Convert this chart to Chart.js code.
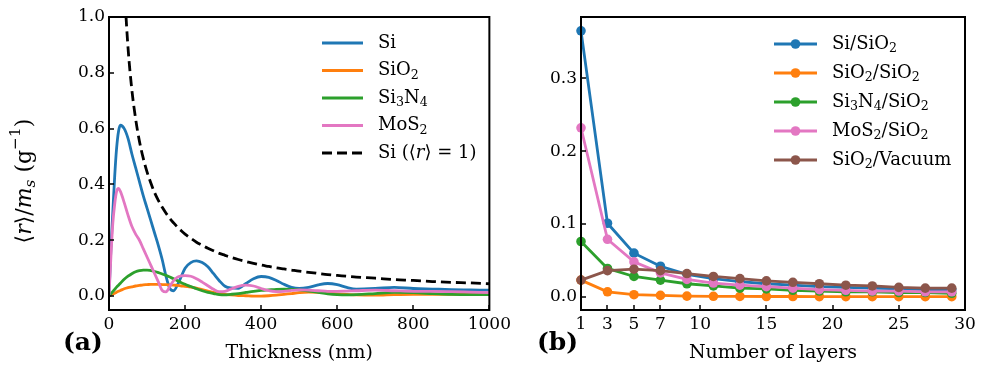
<!DOCTYPE html>
<html>
<head>
<meta charset="utf-8">
<script src="https://cdn.jsdelivr.net/npm/chart.js@4.4.1/dist/chart.umd.min.js"></script>
<style>
  body { margin: 0; background: #fff; }
  #wrap { position: relative; width: 986px; height: 376px; }
  canvas { position: absolute; top: 0; }
</style>
</head>
<body>
<div id="wrap">
  <canvas id="chartA" width="515" height="376" style="left:0"></canvas>
  <canvas id="chartB" width="471" height="376" style="left:515px"></canvas>
</div>
<script>
// ---- panel (a) : ratio vs thickness ----
const thickness = [0, 5, 10, 15, 20, 25, 30, 40, 50, 60, 70, 80, 90, 100, 110, 120, 130, 140, 150, 160,
  170, 180, 190, 200, 215, 230, 245, 260, 275, 290, 305, 320, 340, 360, 380, 400, 420, 440, 460, 480,
  500, 525, 550, 575, 600, 625, 650, 700, 750, 800, 850, 900, 950, 1000];
const siCurve = [0, 0.17, 0.30, 0.43, 0.53, 0.59, 0.612, 0.60, 0.565, 0.51, 0.46, 0.41, 0.36, 0.315, 0.27, 0.225, 0.18, 0.13, 0.07, 0.027,
  0.019, 0.04, 0.07, 0.10, 0.12, 0.126, 0.12, 0.105, 0.08, 0.055, 0.035, 0.029, 0.028, 0.045, 0.062, 0.07, 0.067, 0.056, 0.042, 0.031,
  0.027, 0.031, 0.04, 0.045, 0.041, 0.031, 0.025, 0.027, 0.031, 0.027, 0.025, 0.023, 0.022, 0.021];
const sio2Curve = [0, 0.003, 0.007, 0.010, 0.014, 0.017, 0.020, 0.026, 0.030, 0.033, 0.036, 0.038, 0.040, 0.041, 0.042, 0.042, 0.042, 0.041, 0.041, 0.040,
  0.039, 0.038, 0.036, 0.035, 0.032, 0.028, 0.023, 0.018, 0.013, 0.009, 0.006, 0.004, 0.002, 0.001, 0.000, 0.000, 0.001, 0.003, 0.006, 0.009,
  0.012, 0.014, 0.013, 0.011, 0.008, 0.006, 0.004, 0.003, 0.005, 0.006, 0.006, 0.006, 0.006, 0.005];
const si3n4Curve = [0, 0.008, 0.016, 0.024, 0.032, 0.039, 0.046, 0.060, 0.071, 0.080, 0.087, 0.091, 0.093, 0.093, 0.091, 0.088, 0.084, 0.079, 0.074, 0.068,
  0.062, 0.055, 0.048, 0.042, 0.034, 0.026, 0.019, 0.013, 0.009, 0.005, 0.004, 0.006, 0.009, 0.013, 0.017, 0.020, 0.022, 0.024, 0.025, 0.024,
  0.022, 0.018, 0.013, 0.008, 0.005, 0.004, 0.005, 0.009, 0.013, 0.012, 0.009, 0.006, 0.005, 0.005];
const mos2Curve = [0, 0.14, 0.26, 0.33, 0.375, 0.386, 0.375, 0.335, 0.29, 0.25, 0.222, 0.2, 0.17, 0.14, 0.11, 0.08, 0.05, 0.02, 0.015, 0.035,
  0.055, 0.068, 0.072, 0.073, 0.071, 0.062, 0.05, 0.037, 0.024, 0.016, 0.017, 0.025, 0.035, 0.039, 0.036, 0.027, 0.019, 0.016, 0.017, 0.02,
  0.022, 0.021, 0.019, 0.017, 0.017, 0.018, 0.019, 0.021, 0.019, 0.017, 0.017, 0.016, 0.014, 0.012];
const siIdealCurve = [null, null, null, null, null, null, null, 1.11, 0.89, 0.74, 0.635, 0.555, 0.494, 0.445, 0.405, 0.37, 0.342, 0.318, 0.297, 0.278,
  0.262, 0.247, 0.234, 0.222, 0.207, 0.193, 0.182, 0.171, 0.162, 0.153, 0.146, 0.139, 0.131, 0.124, 0.117, 0.111, 0.106, 0.101, 0.097, 0.093,
  0.089, 0.085, 0.081, 0.077, 0.074, 0.071, 0.068, 0.064, 0.059, 0.056, 0.052, 0.049, 0.047, 0.044];
const thicknessTicks = [0, 200, 400, 600, 800, 1000];
const ratioTicks = [0, 0.2, 0.4, 0.6, 0.8, 1.0];

// ---- panel (b) : ratio vs number of layers ----
const layers = [1, 3, 5, 7, 9, 11, 13, 15, 17, 19, 21, 23, 25, 27, 29];
const siOnSiO2 = [0.365, 0.101, 0.060, 0.042, 0.031, 0.025, 0.021, 0.018, 0.016, 0.014, 0.013, 0.012, 0.011, 0.010, 0.010];
const sio2OnSiO2 = [0.023, 0.007, 0.003, 0.002, 0.001, 0.0008, 0.0006, 0.0005, 0.0005, 0.0004, 0.0004, 0.0003, 0.0003, 0.0003, 0.0003];
const si3n4OnSiO2 = [0.076, 0.039, 0.028, 0.023, 0.018, 0.015, 0.012, 0.011, 0.009, 0.008, 0.007, 0.007, 0.006, 0.006, 0.005];
const mos2OnSiO2 = [0.232, 0.079, 0.048, 0.033, 0.024, 0.019, 0.016, 0.014, 0.012, 0.010, 0.009, 0.008, 0.008, 0.007, 0.007];
const sio2OnVacuum = [0.023, 0.036, 0.038, 0.036, 0.032, 0.028, 0.025, 0.022, 0.020, 0.018, 0.016, 0.015, 0.013, 0.012, 0.012];
const layerTicks = [1, 3, 5, 7, 10, 15, 20, 25, 30];
const layerRatioTicks = [0, 0.1, 0.2, 0.3];

const BLUE = "#1f77b4", ORANGE = "#ff7f0e", GREEN = "#2ca02c", PINK = "#e377c2", BROWN = "#8c564b";
const SERIF = "'DejaVu Serif', serif";

// texte avec indices / exposants : _2, _{s}, ^{-1}, *italique*
function richTokens(text) {
    return text.match(/(_\{[^}]*\}|_.|\^\{[^}]*\}|\*[^*]*\*|[^_^*]+)/g) || [];
}
function drawRich(ctx, text, x, y, size, measureOnly) {
    let cx = x;
    richTokens(text).forEach(tok => {
        let s = size, dy = 0, style = "", str = tok;
        if (tok[0] === "_") { s = size * 0.7; dy = size * 0.28; str = tok[1] === "{" ? tok.slice(2, -1) : tok.slice(1); }
        else if (tok[0] === "^") { s = size * 0.7; dy = -size * 0.4; str = tok.slice(2, -1); }
        if (str[0] === "*") { style = "italic "; str = str.slice(1, -1); }
        ctx.font = style + s + "px " + SERIF;
        if (!measureOnly) ctx.fillText(str, cx, y + dy);
        cx += ctx.measureText(str).width;
    });
    return cx - x;
}

// ticks vers l'intérieur + cadre + légende + textes
const decorPlugin = {
    id: "decor",
    afterDatasetsDraw(chart, args, opts) {
        const ctx = chart.ctx;
        const a = chart.chartArea;
        ctx.save();
        ctx.strokeStyle = "#000";
        ctx.lineWidth = 1.5;
        const xs = chart.scales.x, ys = chart.scales.y;
        xs.ticks.forEach(t => {
            const px = Math.round(xs.getPixelForValue(t.value));
            ctx.beginPath(); ctx.moveTo(px, a.bottom); ctx.lineTo(px, a.bottom - 5); ctx.stroke();
        });
        ys.ticks.forEach(t => {
            const py = Math.round(ys.getPixelForValue(t.value));
            ctx.beginPath(); ctx.moveTo(a.left, py); ctx.lineTo(a.left + 5, py); ctx.stroke();
        });
        ctx.lineWidth = 2;
        ctx.strokeRect(a.left, a.top, a.right - a.left, a.bottom - a.top);

        // légende
        const lg = opts.legend;
        ctx.textBaseline = "middle";
        ctx.fillStyle = "#000";
        chart.data.datasets.forEach((ds, i) => {
            const y = a.top + lg.y + i * lg.dy;
            const x0 = a.left + lg.x;
            ctx.strokeStyle = ds.borderColor;
            ctx.lineWidth = ds.borderWidth;
            ctx.setLineDash(ds.borderDash || []);
            ctx.beginPath(); ctx.moveTo(x0, y); ctx.lineTo(x0 + lg.len, y); ctx.stroke();
            ctx.setLineDash([]);
            if (ds.pointRadius) {
                ctx.fillStyle = ds.borderColor;
                ctx.beginPath(); ctx.arc(x0 + lg.len / 2, y, ds.pointRadius, 0, Math.PI * 2); ctx.fill();
            }
            ctx.fillStyle = "#000";
            drawRich(ctx, ds.label, x0 + lg.len + lg.gap, y, lg.size);
        });

        // étiquette du panneau
        ctx.font = "bold 25px " + SERIF;
        ctx.textBaseline = "middle";
        ctx.fillText(opts.panel, opts.panelX, 343);

        // titre de l'axe y
        if (opts.yTitle) {
            ctx.translate(opts.yTitleX, 181);
            ctx.rotate(-Math.PI / 2);
            const w = drawRich(ctx, opts.yTitle, 0, 0, 22, true);
            drawRich(ctx, opts.yTitle, -w / 2, 0, 22);
        }
        ctx.restore();
    }
};

function lineSet(label, data, color, idx, extra) {
    return Object.assign({
        label: label, data: data, borderColor: color, backgroundColor: color,
        borderWidth: 2.8, pointRadius: 0, fill: false, order: 10 - idx
    }, extra || {});
}

const tickFont = { family: SERIF, size: 17 };

function makeScales(xMin, xMax, xTicks, yMin, yMax, yTicks, leftWidth, xTitle, xFmt, yFmt) {
    return {
        x: {
            type: "linear", min: xMin, max: xMax,
            grid: { display: false, drawTicks: false }, border: { display: false },
            afterBuildTicks: s => { s.ticks = xTicks.map(v => ({ value: v })); },
            afterFit: s => { s.height = 66; },
            ticks: { font: tickFont, color: "#000", padding: 4, maxRotation: 0, autoSkip: false, callback: xFmt },
            title: { display: true, text: xTitle, font: { family: SERIF, size: 19 }, color: "#000", padding: { top: 0, bottom: 12 } }
        },
        y: {
            type: "linear", min: yMin, max: yMax,
            grid: { display: false, drawTicks: false }, border: { display: false },
            afterBuildTicks: s => { s.ticks = yTicks.map(v => ({ value: v })); },
            afterFit: s => { s.width = leftWidth; },
            ticks: { font: tickFont, color: "#000", padding: 4, autoSkip: false, callback: yFmt }
        }
    };
}

new Chart(document.getElementById("chartA"), {
    type: "line",
    data: {
        labels: thickness,
        datasets: [
            lineSet("Si", siCurve, BLUE, 0),
            lineSet("SiO_2", sio2Curve, ORANGE, 1),
            lineSet("Si_3N_4", si3n4Curve, GREEN, 2),
            lineSet("MoS_2", mos2Curve, PINK, 3),
            lineSet("Si (⟨*r*⟩ = 1)", siIdealCurve, "#000", 4, { borderDash: [10, 5], spanGaps: false })
        ].map(ds => Object.assign(ds, { data: ds.data.map((v, i) => ({ x: thickness[i], y: v })), cubicInterpolationMode: "monotone" }))
    },
    options: {
        responsive: false, animation: false, devicePixelRatio: 1,
        layout: { padding: { left: 0, top: 17, right: 23, bottom: 0 } },
        plugins: {
            legend: { display: false }, tooltip: { enabled: false },
            decor: { panel: "(a)", panelX: 63, yTitle: "⟨*r*⟩/*m*_{*s*} (g^{−1})", yTitleX: 25,
                     legend: { x: 213, y: 26, dy: 27.5, len: 41, gap: 15, size: 18 } }
        },
        scales: makeScales(0, 1000, thicknessTicks, -0.05, 1.0, ratioTicks, 109, "Thickness (nm)",
            v => String(v), v => v.toFixed(1))
    },
    plugins: [decorPlugin]
});

new Chart(document.getElementById("chartB"), {
    type: "line",
    data: {
        labels: layers,
        datasets: [
            lineSet("Si/SiO_2", siOnSiO2, BLUE, 0),
            lineSet("SiO_2/SiO_2", sio2OnSiO2, ORANGE, 1),
            lineSet("Si_3N_4/SiO_2", si3n4OnSiO2, GREEN, 2),
            lineSet("MoS_2/SiO_2", mos2OnSiO2, PINK, 3),
            lineSet("SiO_2/Vacuum", sio2OnVacuum, BROWN, 4)
        ].map(ds => Object.assign(ds, {
            data: ds.data.map((v, i) => ({ x: layers[i], y: v })),
            pointRadius: 4.8, pointBorderWidth: 0, pointBackgroundColor: ds.borderColor, clip: false
        }))
    },
    options: {
        responsive: false, animation: false, devicePixelRatio: 1,
        layout: { padding: { left: 0, top: 17, right: 21, bottom: 0 } },
        plugins: {
            legend: { display: false }, tooltip: { enabled: false },
            decor: { panel: "(b)", panelX: 22, legend: { x: 193, y: 27, dy: 29, len: 43, gap: 15, size: 18 } }
        },
        scales: makeScales(1, 30, layerTicks, -0.018, 0.384, layerRatioTicks, 66, "Number of layers",
            v => String(v), v => v.toFixed(1))
    },
    plugins: [decorPlugin]
});
</script>
</body>
</html>
